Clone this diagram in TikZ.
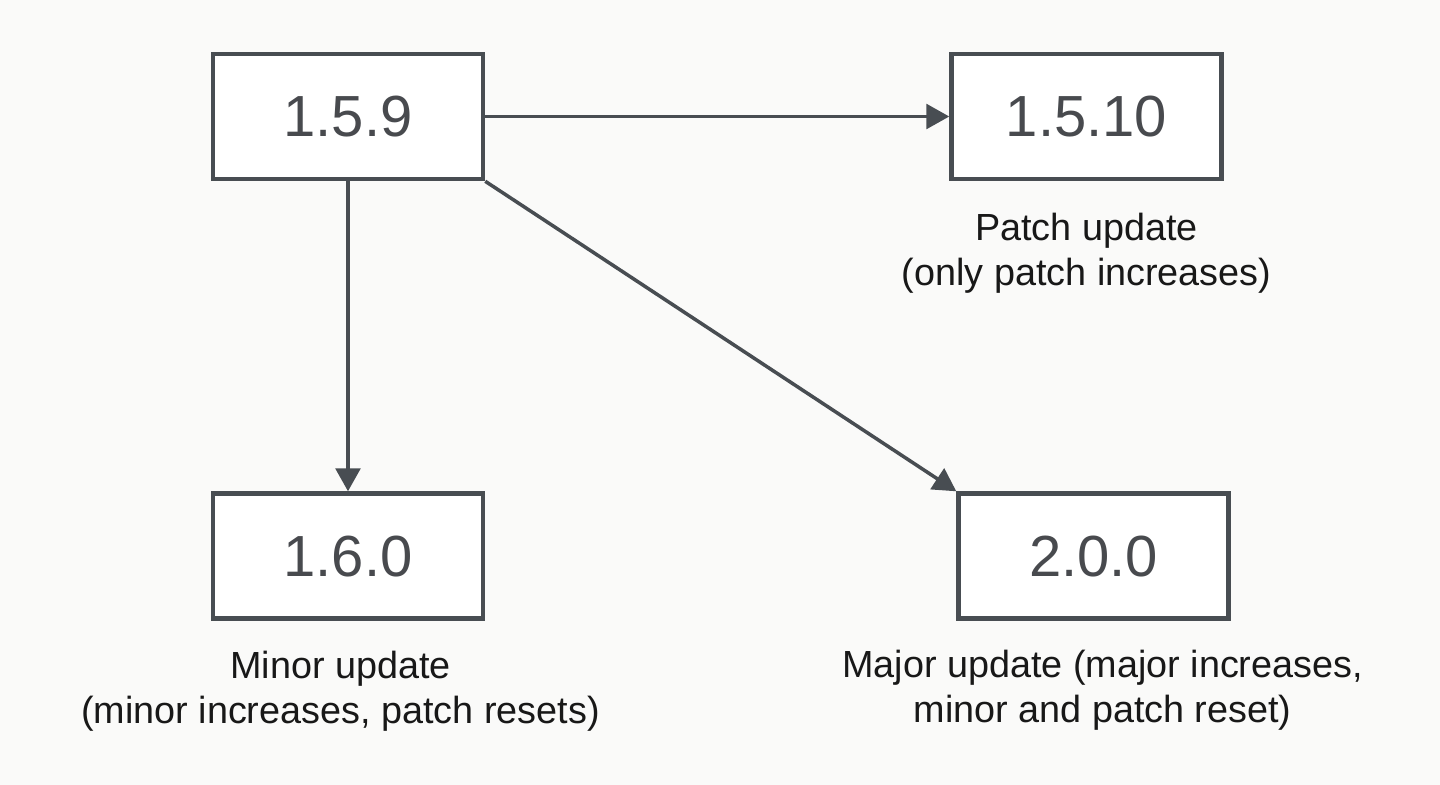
\documentclass[tikz,border=0pt]{standalone}
\usepackage{fontspec}
\setmainfont{Liberation Sans}
\usetikzlibrary{positioning, calc}
\usetikzlibrary{arrows.meta}

\begin{document}
\begin{tikzpicture}[font=\fontsize{21.5}{25.5}\selectfont, align=center, >={Triangle[length=13pt,width=14pt]}, line width=2pt,
    versionbox/.style={draw=edgegray, fill=white, line width=2.6pt, minimum width=5.4cm, minimum height=2.5cm, text=versiongray, font=\fontsize{33}{38}\selectfont},
    updatelabel/.style={inner sep=0pt, text=labelblack}]
        % Define colors
        \definecolor{edgegray}{RGB}{72,77,82}
        \definecolor{versiongray}{RGB}{72,74,78}
        \definecolor{labelblack}{RGB}{24,24,24}
        \definecolor{pagebg}{RGB}{250,250,249}

        % Background
        \path[use as bounding box, fill=pagebg] (-6.96,2.33) rectangle (21.84,-13.37);

        % Nodes
        \node[versionbox] (v159) {1.5.9};
        \node[versionbox, right=9.28cm of v159] (v1510) {1.5.10};
        \node[versionbox, below=6.2cm of v159] (v160) {1.6.0};
        \node[versionbox, right=9.42cm of v160] (v200) {2.0.0};

        % Labels
        \node[updatelabel, below=0.6cm of v1510] (patch) {Patch update\\(only patch increases)};
        \node[updatelabel, below=0.58cm of v160, xshift=-0.15cm] (minor) {Minor update\\(minor increases, patch resets)};
        \node[updatelabel, below=0.56cm of v200, xshift=0.18cm] (major) {Major update (major increases,\\minor and patch reset)};

        % Edges
        \draw[->, edgegray] (v159.east) -- (v1510.west);
        \draw[->, edgegray] (v159.south) -- (v160.north);
        \draw[->, edgegray] (v159.south east) -- (v200.north west);
    \end{tikzpicture}
\end{document}
